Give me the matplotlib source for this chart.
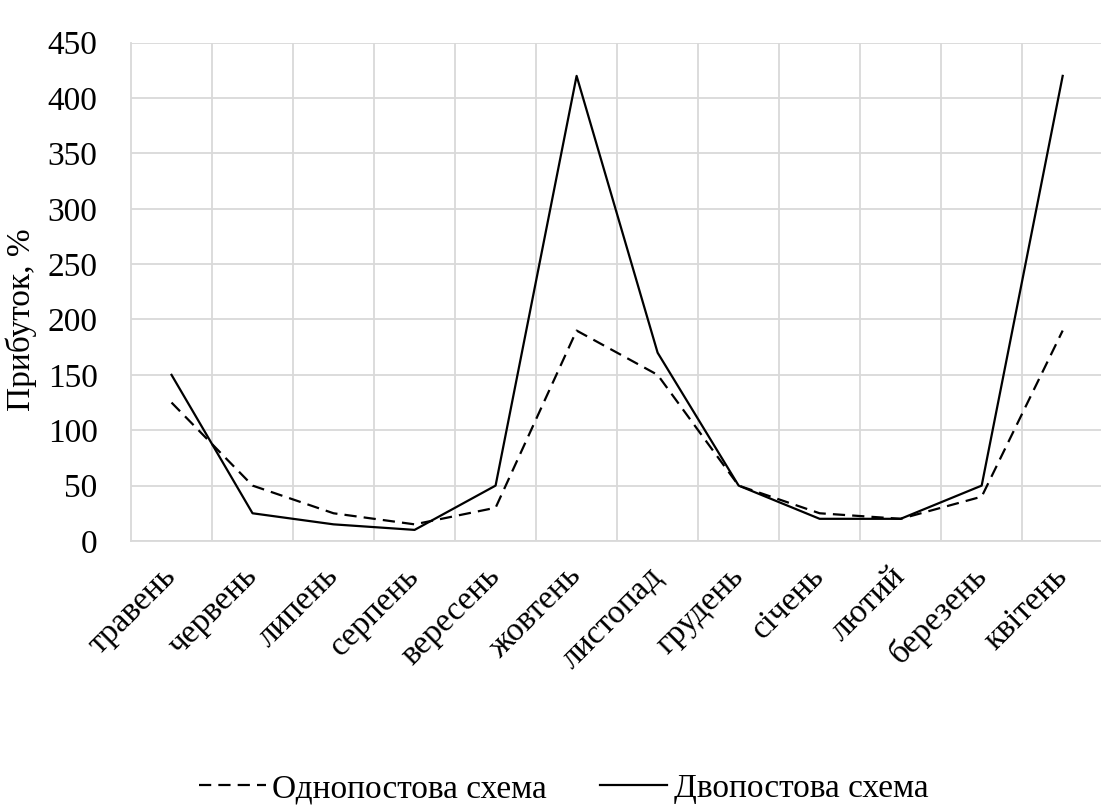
import matplotlib
matplotlib.use("Agg")
import matplotlib.pyplot as plt
import numpy as np

# Monthly profit by scheme, %
months = ["травень", "червень", "липень", "серпень", "вересень", "жовтень",
          "листопад", "грудень", "січень", "лютий", "березень", "квітень"]
single_post = [125, 50, 25, 15, 30, 190, 150, 50, 25, 20, 40, 190]
double_post = [150, 25, 15, 10, 50, 420, 170, 50, 20, 20, 50, 420]
y_ticks = [0, 50, 100, 150, 200, 250, 300, 350, 400, 450]

plt.rcParams["font.family"] = ["Liberation Serif", "DejaVu Serif"]
FS = 24

fig = plt.figure(figsize=(11.01, 8.05), dpi=100)
ax = fig.add_axes([0.119, 0.328, 0.883, 0.619])

x = np.arange(len(months))
ax.plot(x, single_post, color="black", lw=1.6, dashes=(5.5, 3.2),
        label="Однопостова схема")
ax.plot(x, double_post, color="black", lw=1.6, label="Двопостова схема")

ax.set_xlim(-0.5, len(months) - 0.5)
ax.set_ylim(0, 450)
ax.set_yticks(y_ticks)
ax.set_xticks(x)
ax.set_xticklabels(months, rotation=45, ha="right", va="center",
                   rotation_mode="anchor", fontsize=FS)
ax.set_xticks(x[:-1] + 0.5, minor=True)
ax.tick_params(axis="y", labelsize=FS, length=0, pad=24)
ax.tick_params(axis="x", which="major", length=0, pad=22)
ax.tick_params(axis="x", which="minor", length=0)

grid_color = "#d9d9d9"
ax.grid(axis="y", color=grid_color, lw=1.3)
ax.grid(axis="x", which="minor", color=grid_color, lw=1.3)
ax.set_axisbelow(True)
for side in ["top", "right"]:
    ax.spines[side].set_visible(False)
for side in ["left", "bottom"]:
    ax.spines[side].set_color(grid_color)
    ax.spines[side].set_linewidth(1.3)

ax.set_ylabel("Прибуток, %", fontsize=FS)
ax.yaxis.set_label_coords(-0.097, 0.445)

fig.legend(loc="center", bbox_to_anchor=(0.512, 0.02), ncol=2, frameon=False,
           fontsize=FS, handlelength=2.0, columnspacing=1.6, handletextpad=0.2)

fig.savefig("out.png", dpi=100)
